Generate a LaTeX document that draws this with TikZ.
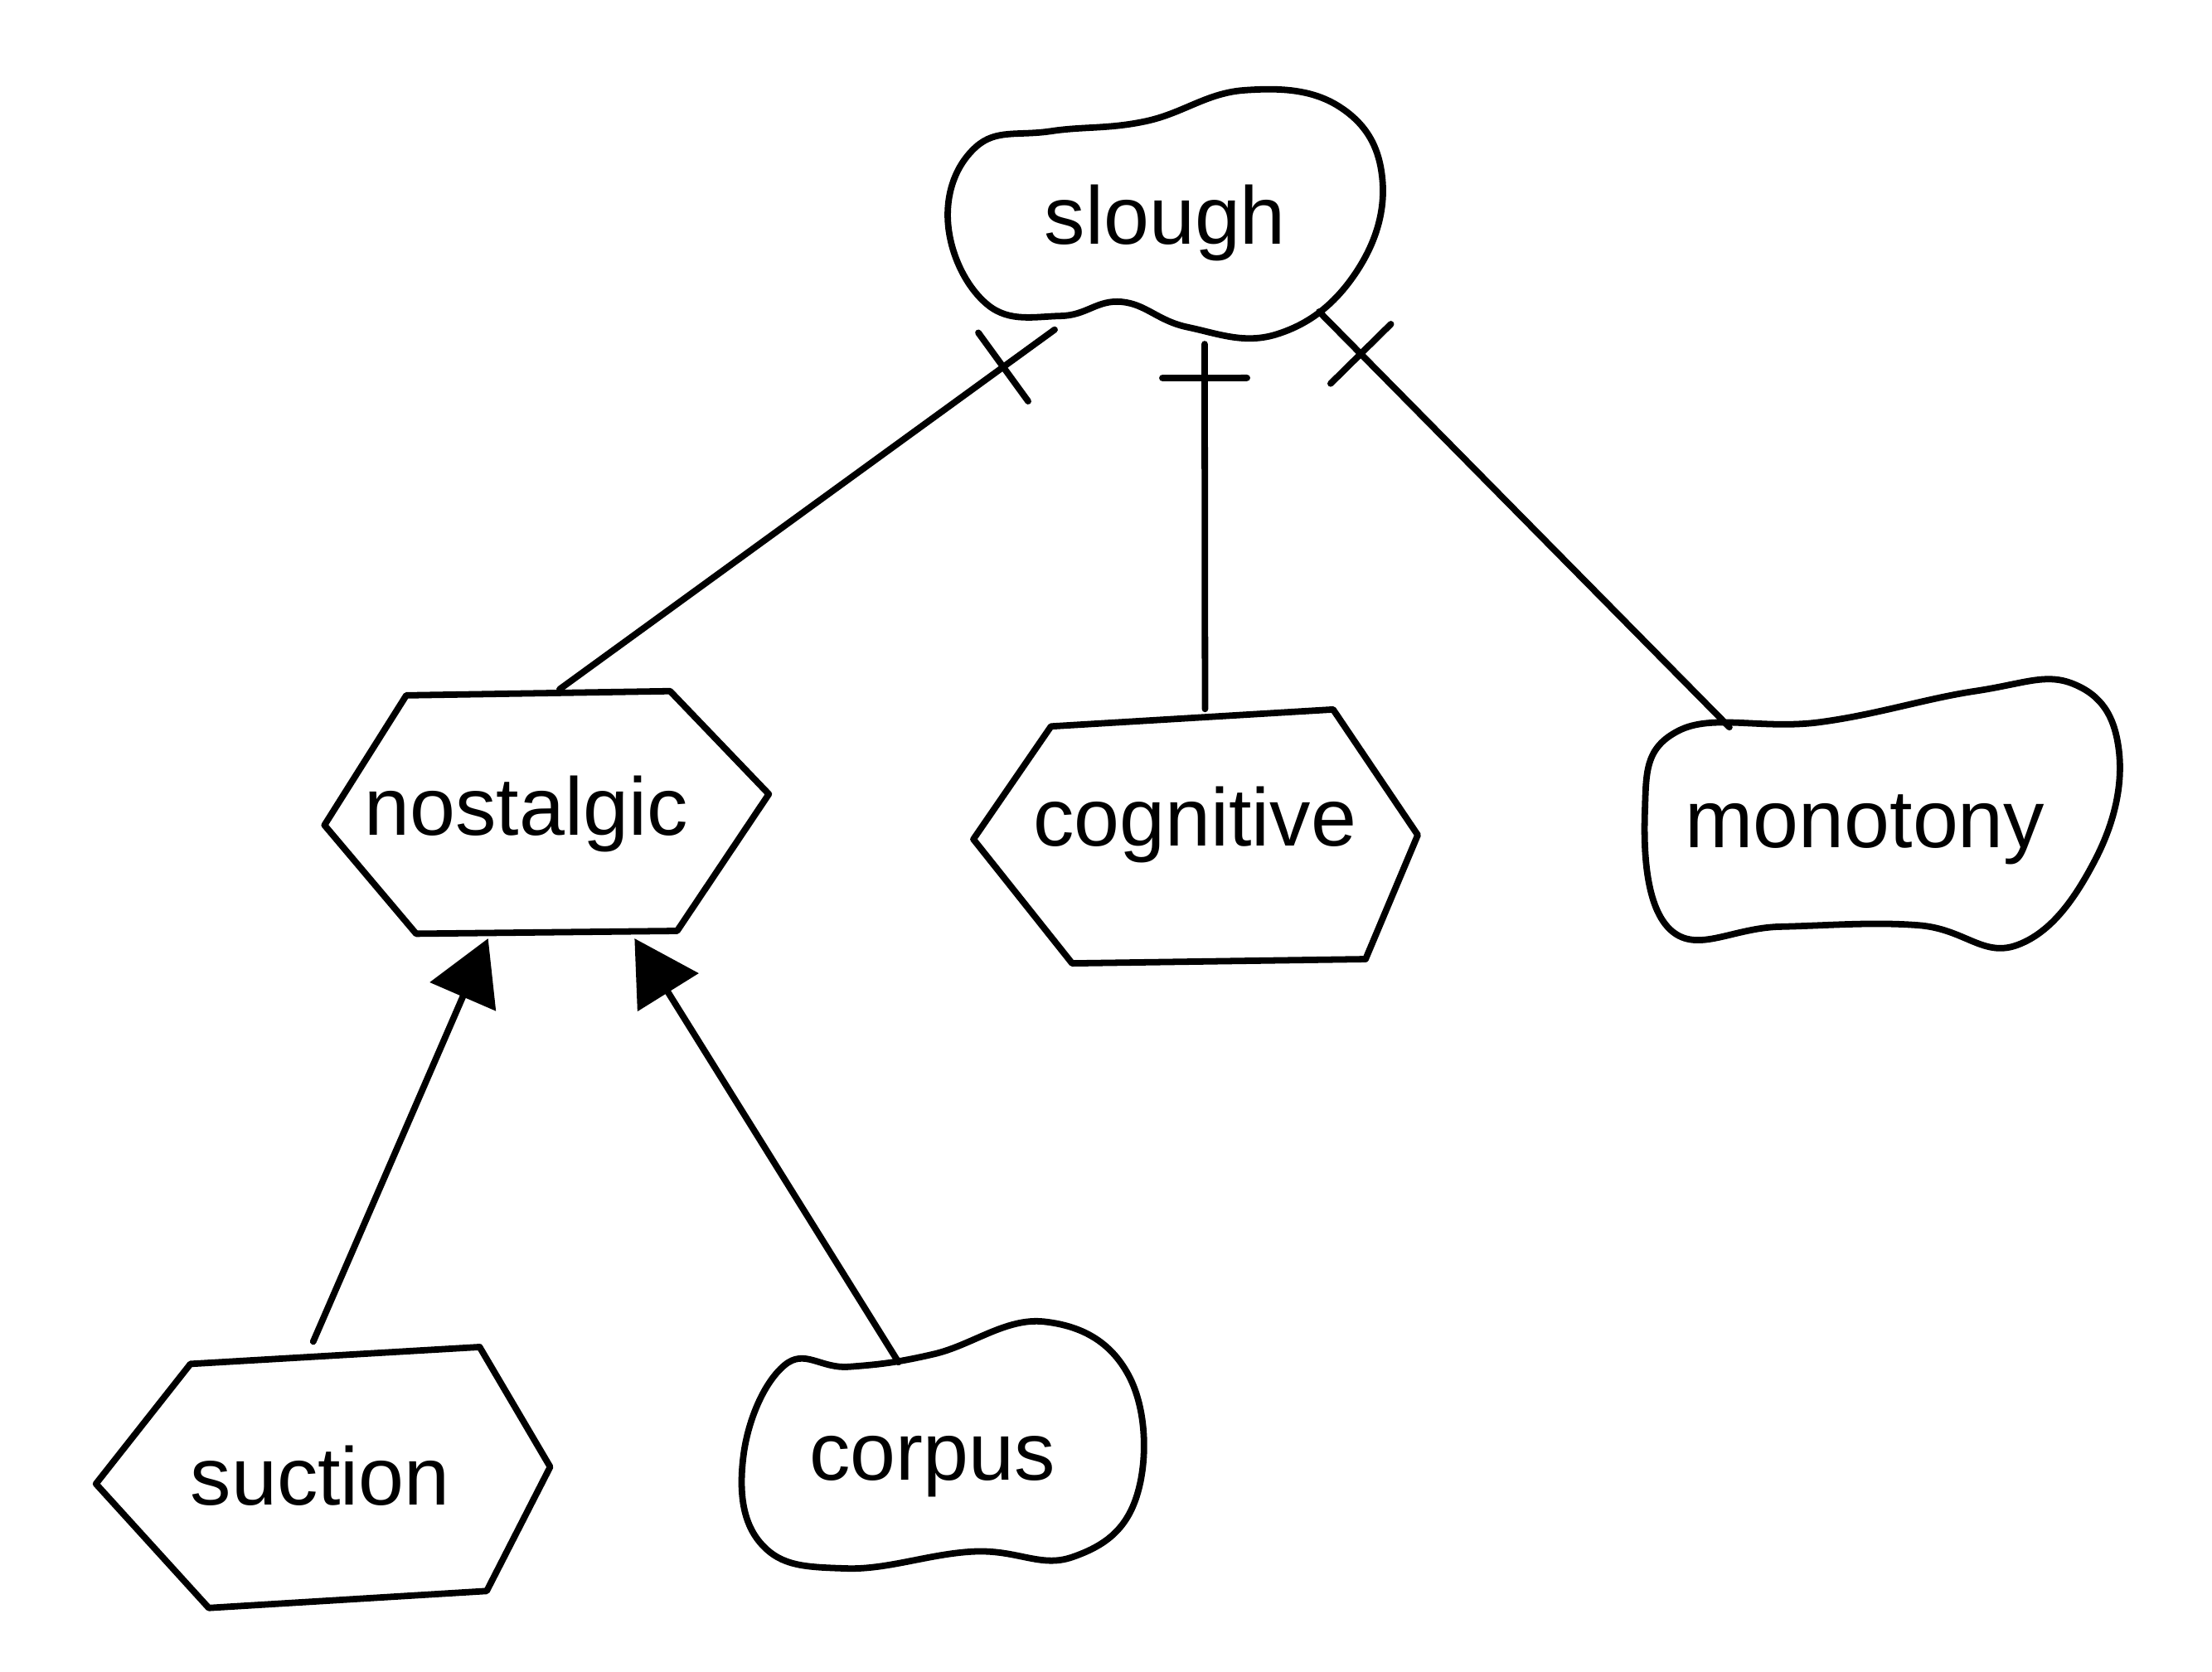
\documentclass[tikz,border=0pt]{standalone}
\usepackage{fontspec}
\setmainfont{Liberation Sans}
\usetikzlibrary{arrows.meta,decorations.markings,shapes.geometric}
\begin{document}
\begin{tikzpicture}[x=0.01cm,y=-0.01cm,line width=1.3pt,line cap=round,line join=round,
  lbl/.style={font=\fontsize{16.5}{20}\selectfont,inner sep=0pt},
  blobnode/.style={lbl,ellipse},
  hexnode/.style={lbl,rectangle},
  shapeline/.style={draw=black,line width=1.3pt},
  conn/.style={draw=black,line width=1.3pt},
  onebar/.style={postaction={decorate,decoration={markings,mark=at position #1 with {\draw[line width=1.3pt,line cap=round] (0,-0.3cm) -- (0,0.3cm);}}}},
  tri/.style={-{Triangle[length=0.45cm,width=0.5cm]}}]
\fill[white] (0,0) rectangle (1568,1185);
\useasboundingbox (0,0) rectangle (1568,1185);

% shapes drawn directly
\draw[shapeline] plot[smooth cycle,tension=0.7] coordinates {(672,158) (692,104) (745,93) (812,86) (882,64) (950,76) (980,128) (960,195) (905,237) (842,232) (795,214) (752,224) (700,216)};
\draw[shapeline] plot[smooth cycle,tension=0.7] coordinates {(1166,575) (1190,518) (1290,512) (1400,490) (1470,485) (1502,532) (1485,610) (1430,670) (1360,656) (1262,657) (1185,660)};
\draw[shapeline] plot[smooth cycle,tension=0.7] coordinates {(527,1032) (556,968) (602,969) (662,960) (740,937) (800,975) (806,1060) (760,1104) (690,1100) (600,1112) (540,1095)};
\draw[shapeline] (230,585) -- (288,493) -- (475,490) -- (545,563) -- (480,660) -- (295,662) -- cycle;
\draw[shapeline] (690,595) -- (745,515) -- (945,503) -- (1005,592) -- (968,680) -- (760,683) -- cycle;
\draw[shapeline] (68,1052) -- (135,967) -- (340,955) -- (390,1040) -- (345,1128) -- (148,1140) -- cycle;

% nodes
\node[blobnode,minimum width=3.1cm,minimum height=1.7cm] (slough) at (826,158) {\makebox[0pt]{slough}};
\node[hexnode,minimum width=3.15cm,minimum height=1.72cm] (nost) at (373,577) {nostalgic};
\node[hexnode,minimum width=3.17cm,minimum height=1.6cm] (cog) at (847,585) {cognitive};
\node[blobnode,minimum width=3.2cm,minimum height=1.75cm] (mono) at (1322,588) {\makebox[0pt]{monotony}};
\node[hexnode,minimum width=3.22cm,minimum height=1.85cm] (suc) at (227,1046) {suction};
\node[blobnode,minimum width=2.82cm,minimum height=1.46cm] (corp) at (661,1040) {\makebox[0pt]{corpus}};

% connectors
\draw[conn,onebar=0.45cm] (slough.224) -- (nost.75);
\draw[conn,onebar=0.24cm] (slough.-72) -- (cog.85);
\draw[conn,onebar=0.42cm] (slough.-30) -- (mono.143);
\draw[conn,tri] (suc.93) -- (nost.253);
\draw[conn,tri] (corp.108) -- (nost.-49);
\end{tikzpicture}
\end{document}
